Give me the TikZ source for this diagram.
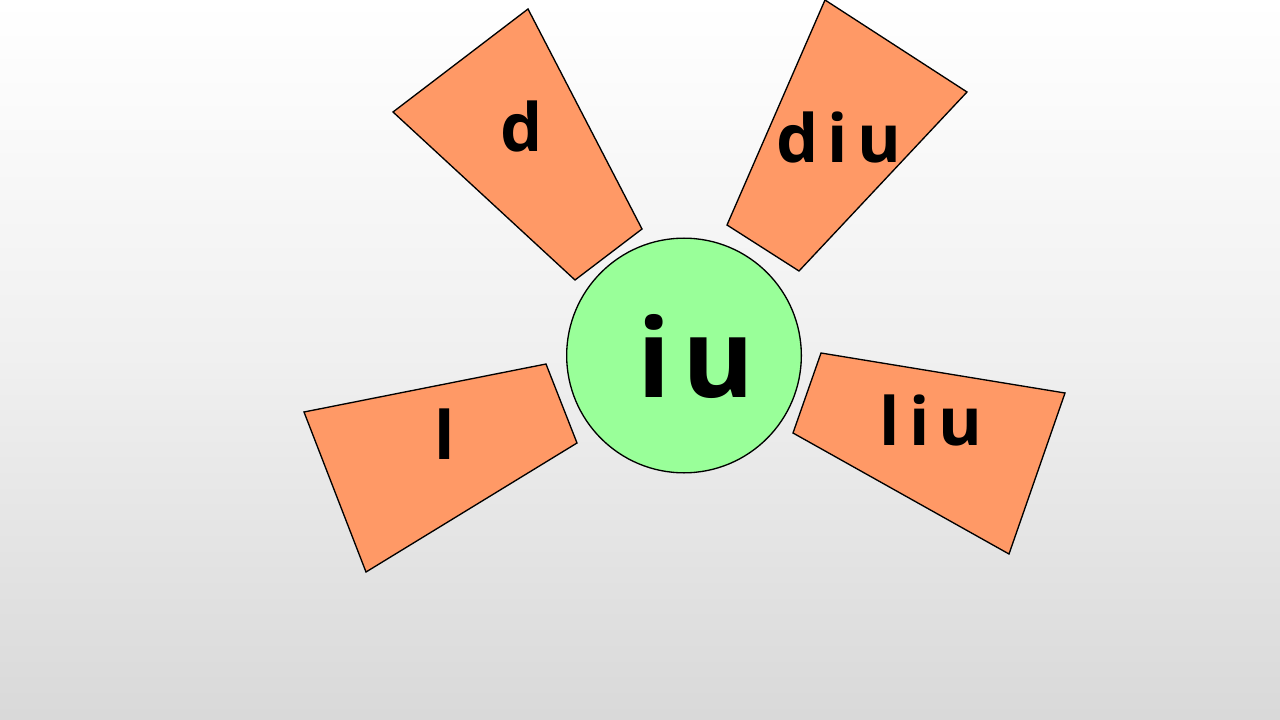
\documentclass[tikz,border=0pt]{standalone}
\usepackage{fontspec}
\setmainfont{Open Sans}
\begin{document}
\begin{tikzpicture}[x=0.75pt,y=-0.75pt,
  petal/.style={draw=black, line width=1pt, fill=petalc, line join=miter},
  lbl/.style={anchor=base, inner sep=0pt, font=\fontsize{50}{60}\selectfont\bfseries},
  big/.style={anchor=base, inner sep=0pt, font=\fontsize{82}{96}\selectfont\bfseries}]
\definecolor{petalc}{HTML}{FF9966}
\definecolor{hubc}{HTML}{99FF99}
\shade[top color=white, bottom color=black!6] (0,0) rectangle (1280,360);
\shade[top color=black!6, bottom color=black!15] (0,359.5) rectangle (1280,720);
\useasboundingbox (0,0) rectangle (1280,720);
\draw[petal] (393,112) -- (528,9) -- (642,229) -- (575,280) -- cycle;
\draw[petal] (825,0) -- (967,92) -- (799,271) -- (727,225) -- cycle;
\draw[petal] (304,412) -- (546,364) -- (577,443) -- (366,572) -- cycle;
\draw[petal] (821,353) -- (1065,393) -- (1009,554) -- (793,433) -- cycle;
\node[circle, draw=black, line width=1pt, fill=hubc, minimum size=176pt, inner sep=0pt] (hub) at (684,355.5) {};
\node[lbl] (d) at (522,152) {d};
\node[lbl] (diu) at (839,163) {d\kern0.14em i\kern0.14em u};
\node[lbl] (l) at (445,459) {l};
\node[lbl] (liu) at (931,445) {l\kern0.14em i\kern0.14em u};
\node[big] (iu) at (696,397) {i\kern0.1em u};
\end{tikzpicture}
\end{document}
